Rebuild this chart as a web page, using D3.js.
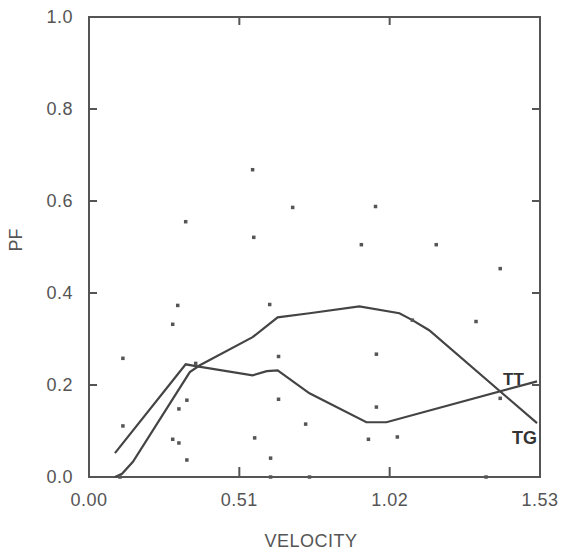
<!DOCTYPE html>
<html>
<head>
<meta charset="utf-8">
<script src="https://cdn.jsdelivr.net/npm/d3@7"></script>
<style>
  body { margin: 0; background: #fff; }
  text { font-family: "Liberation Sans", Arial, sans-serif; }
</style>
</head>
<body>
<svg id="chart"></svg>
<script>
// tick values
const xTicks = [0.00, 0.51, 1.02, 1.53];
const yTicks = [0.0, 0.2, 0.4, 0.6, 0.8, 1.0];

// TT curve (velocity, PF)
const ttVel = [0.088, 0.328, 0.362, 0.555, 0.603, 0.640, 0.748, 0.941, 1.009, 1.520];
const ttPF  = [0.052, 0.245, 0.241, 0.221, 0.230, 0.232, 0.182, 0.119, 0.119, 0.208];

// TG curve
const tgVel = [0.088, 0.112, 0.149, 0.342, 0.376, 0.555, 0.640, 0.748, 0.917, 1.053, 1.097, 1.154, 1.520];
const tgPF  = [0.000, 0.007, 0.033, 0.228, 0.243, 0.304, 0.347, 0.356, 0.371, 0.356, 0.341, 0.319, 0.117];

// scattered observations
const ptVel = [0.555, 0.691, 0.328, 0.559, 0.301, 0.613, 0.284, 0.972, 0.924, 1.178, 1.395, 1.313, 1.097,
  0.115, 0.362, 0.643, 0.332, 0.305, 0.643, 0.115, 0.284, 0.305, 0.332, 0.562, 0.616, 0.735,
  0.975, 0.975, 0.948, 1.046, 1.395, 0.105, 0.616, 0.748, 1.347];
const ptPF  = [0.668, 0.586, 0.555, 0.521, 0.373, 0.375, 0.332, 0.588, 0.505, 0.505, 0.453, 0.338, 0.341,
  0.258, 0.247, 0.262, 0.167, 0.148, 0.169, 0.111, 0.082, 0.074, 0.037, 0.085, 0.041, 0.115,
  0.267, 0.152, 0.082, 0.087, 0.171, 0.0, 0.0, 0.0, 0.0];

var margin = { top: 17, right: 22, bottom: 79, left: 89 },
  width = 562 - margin.left - margin.right,
  height = 556 - margin.top - margin.bottom;

var svg = d3.select("#chart")
  .attr("width", 562)
  .attr("height", 556)
  .append("g")
  .attr("transform", "translate(" + margin.left + "," + margin.top + ")");

const x = d3.scaleLinear().domain([0, 1.53]).range([0, width]);
const y = d3.scaleLinear().domain([0, 1]).range([height, 0]);

const axisColor = "#555";
const inner = xTicks.slice(1, -1);
const innerY = yTicks.slice(1, -1);

// frame
svg.append("rect")
  .attr("width", width).attr("height", height)
  .attr("fill", "none").attr("stroke", axisColor).attr("stroke-width", 2);

// inward ticks, all four sides
svg.selectAll(".xtb").data(inner).join("line")
  .attr("x1", d => x(d)).attr("x2", d => x(d))
  .attr("y1", height).attr("y2", height - 10)
  .attr("stroke", axisColor).attr("stroke-width", 2);
svg.selectAll(".xtt").data(inner).join("line")
  .attr("x1", d => x(d)).attr("x2", d => x(d))
  .attr("y1", 0).attr("y2", 8)
  .attr("stroke", axisColor).attr("stroke-width", 2);
svg.selectAll(".ytl").data(innerY).join("line")
  .attr("x1", 0).attr("x2", 8)
  .attr("y1", d => y(d)).attr("y2", d => y(d))
  .attr("stroke", axisColor).attr("stroke-width", 2);
svg.selectAll(".ytr").data(innerY).join("line")
  .attr("x1", width).attr("x2", width - 8)
  .attr("y1", d => y(d)).attr("y2", d => y(d))
  .attr("stroke", axisColor).attr("stroke-width", 2);

// tick labels
svg.selectAll(".xl").data(xTicks).join("text")
  .attr("x", d => x(d)).attr("y", height + 29)
  .attr("text-anchor", "middle")
  .style("font-size", "18px").style("letter-spacing", "0.5px").style("fill", "#555")
  .text(d => d.toFixed(2));
svg.selectAll(".yl").data(yTicks).join("text")
  .attr("x", -16).attr("y", d => y(d) + 6)
  .attr("text-anchor", "end")
  .style("font-size", "18px").style("letter-spacing", "0.5px").style("fill", "#555")
  .text(d => d.toFixed(1));

// axis titles
svg.append("text")
  .attr("x", 222).attr("y", height + 70)
  .attr("text-anchor", "middle")
  .style("font-size", "18px").style("letter-spacing", "0.5px").style("fill", "#555")
  .text("VELOCITY");
svg.append("text")
  .attr("transform", "rotate(-90)")
  .attr("x", -height / 2 + 7).attr("y", -67)
  .attr("text-anchor", "middle")
  .style("font-size", "18px").style("fill", "#555")
  .text("PF");

// curves
const line = d3.line().x(d => x(d[0])).y(d => y(d[1]));
const curves = [
  { name: "TT", pts: d3.zip(ttVel, ttPF) },
  { name: "TG", pts: d3.zip(tgVel, tgPF) }
];
svg.selectAll(".curve").data(curves).join("path")
  .attr("fill", "none")
  .attr("stroke", "#444")
  .attr("stroke-width", 2.2)
  .attr("d", d => line(d.pts));

// points
svg.selectAll(".pt").data(d3.zip(ptVel, ptPF)).join("rect")
  .attr("x", d => x(d[0]) - 1.75).attr("y", d => y(d[1]) - 1.75)
  .attr("width", 3.5).attr("height", 3.5)
  .attr("fill", "#555");

// curve labels
svg.append("text")
  .attr("x", x(1.53) - 37).attr("y", y(ttPF[ttPF.length - 1]) + 4)
  .style("font-size", "17px").style("font-weight", "bold").style("fill", "#333")
  .text("TT");
svg.append("text")
  .attr("x", x(1.53) - 3).attr("y", y(tgPF[tgPF.length - 1]) + 21)
  .attr("text-anchor", "end")
  .style("font-size", "18px").style("font-weight", "bold").style("fill", "#333")
  .text("TG");
</script>
</body>
</html>
